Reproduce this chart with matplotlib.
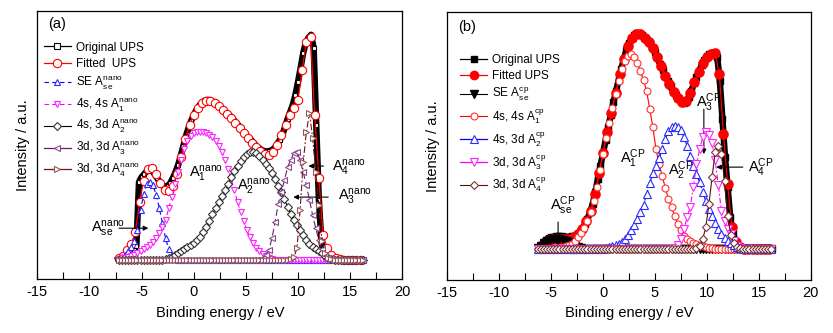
import numpy as np
import matplotlib
matplotlib.use("Agg")
import matplotlib.pyplot as plt
from matplotlib.lines import Line2D
from matplotlib.ticker import MultipleLocator

plt.rcParams['font.family'] = ['Liberation Sans', 'DejaVu Sans']
plt.rcParams['mathtext.fontset'] = 'custom'
plt.rcParams['mathtext.rm'] = 'Liberation Sans'
plt.rcParams['mathtext.it'] = 'Liberation Sans:italic'
plt.rcParams['axes.unicode_minus'] = False

# ---------------- panel (a): nano sample ----------------
a_orig_x = np.arange(-7.25, 16.25 + 1e-9, 0.25)
a_orig_y = [1, 2, 3, 4, 6, 8, 10, 14, 78, 83, 86, 89, 90, 89, 86, 82, 78, 75, 73, 74,
            77, 82, 88, 95, 104, 114, 124, 132, 139, 145,
            150, 154, 157, 159, 160, 160, 159, 157, 155, 153, 150, 148, 146, 144, 141, 138, 135, 131, 128, 125,
            122, 120, 117, 114, 112, 110, 109, 108, 109, 110, 112, 116, 120, 125, 133, 141, 148, 155, 165, 178,
            192, 207, 217, 222, 225, 212, 135, 60, 18, 7, 3, 2, 1, 1, 1, 0, 0, 0, 0, 0, 0, 0, 0, 0, 0]

a_fit_x = np.arange(-7.2, 16.0 + 1e-9, 0.4)
a_fit_y = [2, 4, 10, 16, 28, 58, 79, 91, 92, 86, 77, 70, 69, 74, 86, 103, 121, 135, 145, 152,
           157, 159, 159, 157, 154, 150, 146, 142, 137, 132, 127, 122, 117, 113, 109, 106, 105, 108, 115, 125,
           135, 145, 152, 160, 190, 218, 223, 145, 82, 25, 12, 5, 2, 1, 0, 0, 0, 0, 0]

a_comp_x = np.arange(-7.2, 16.2 + 1e-9, 0.3)
a_se_start, a_se_y = -7.2, [2, 3, 5, 9, 13, 19, 30, 50, 66, 76, 78, 75, 65, 52, 37, 22, 11, 5, 2]
a_1_start, a_1_y = -7.2, [1, 2, 2, 3, 4, 5, 7, 9, 11, 13, 15, 18, 22, 27, 33, 40, 52, 63, 76, 88,
                          100, 111, 119, 124, 127, 128, 128, 128, 127, 125, 123, 119, 114, 108, 100, 91, 81, 70, 58, 48,
                          39, 30, 23, 17, 12, 9, 6, 4, 2, 1]
a_2_start, a_2_y = -2.7, [1, 2, 3, 5, 7, 9, 11, 13, 15, 17, 20, 23, 28, 33, 39, 46, 52, 58, 64, 70,
                          76, 83, 89, 94, 99, 103, 106, 108, 108, 107, 104, 100, 96, 92, 87, 81, 74, 68, 61, 53,
                          46, 40, 35, 30, 25, 20, 16, 13, 11, 9, 7, 4, 2, 1]
a_3_start, a_3_y = 6.6, [2, 5, 10, 22, 38, 56, 68, 80, 93, 100, 107, 108, 100, 88, 75, 60, 45, 32, 20, 11, 5, 2, 1]
a_4_start, a_4_y = 9.3, [1, 3, 12, 50, 98, 128, 147, 122, 88, 55, 19, 7, 2, 1]

# ---------------- panel (b): CP sample ----------------
b_orig_x = np.arange(-5.75, 16.25 + 1e-9, 0.25)
b_orig_y = [6, 9, 11, 12, 12, 13, 13, 13, 12, 12, 12, 13, 13, 14, 17, 20, 25, 30, 37, 45,
            57, 70, 83, 96, 109, 122, 134, 147, 158, 169, 180, 190, 199, 206, 211, 214, 216, 216, 214, 211,
            209, 206, 202, 197, 191, 185, 179, 173, 168, 163, 158, 154, 151, 148, 146, 147, 152, 158, 166, 172,
            178, 184, 189, 193, 195, 196, 196, 192, 168, 130, 92, 62, 32, 16, 8, 3, 1, 1, 0, 0,
            0, 0, 0, 0, 0, 0, 0, 0, 0]

b_fit_x = np.arange(-6.0, 16.0 + 1e-9, 0.4)
b_fit_y = [3, 7, 9, 10, 10, 10, 10, 10, 12, 15, 20, 28, 38, 55, 76, 96, 117, 136, 156, 175,
           190, 203, 211, 215, 215, 211, 207, 201, 192, 183, 173, 165, 157, 151, 147, 148, 156, 167, 177, 186,
           192, 195, 196, 175, 115, 65, 22, 7, 2, 0, 0, 0, 0, 0, 0, 0]

b_comp_x = np.arange(-6.3, 16.2 + 1e-9, 0.3)
b_se_start, b_se_y = -6.3, [1, 3, 6, 8, 9, 10, 10, 10, 9, 8, 7, 5, 4, 2, 1]
b_1_start, b_1_y = -4.2, [1, 2, 3, 4, 5, 8, 12, 16, 21, 28, 37, 48, 62, 79, 95, 111, 126, 141, 155, 168,
                          180, 188, 193, 195, 192, 186, 178, 169, 158, 140, 122, 100, 85, 73, 61, 50, 42, 33, 25, 19,
                          13, 10, 8, 6, 5, 4, 3, 2, 1, 1]
b_2_start, b_2_y = 0.3, [1, 2, 3, 4, 5, 7, 10, 14, 19, 24, 30, 37, 44, 55, 66, 76, 83, 91, 100, 110,
                         118, 122, 123, 122, 119, 112, 103, 93, 83, 75, 67, 57, 48, 40, 33, 26, 20, 15, 11, 8,
                         6, 4, 2, 1]
b_3_start, b_3_y = 6.9, [1, 4, 10, 20, 32, 42, 62, 85, 100, 112, 117, 114, 106, 89, 64, 38, 28, 20, 15, 8, 3, 1]
b_4_start, b_4_y = 9.0, [1, 3, 10, 22, 45, 72, 97, 103, 95, 68, 33, 14, 6, 2, 1]


def on_grid(grid, start, vals):
    """Place a component's nonzero values on its grid; the rest sits on the baseline."""
    y = np.zeros(len(grid))
    i0 = int(round((start - grid[0]) / (grid[1] - grid[0])))
    y[i0:i0 + len(vals)] = vals
    return y


fig = plt.figure(figsize=(8.33, 3.33), dpi=100)
W, H = 833.0, 333.0
ax_a = fig.add_axes([37.3 / W, 1 - 279.3 / H, (402.3 - 37.3) / W, (279.3 - 10.7) / H])
ax_b = fig.add_axes([447.3 / W, 1 - 280.0 / H, (810.7 - 447.3) / W, (280.0 - 12.3) / H])

FS_TICK = 10.5
FS_LEG = 8.5
FS_ANN = 10.5


def style_axes(ax, ylim):
    ax.set_xlim(-15, 20)
    ax.set_ylim(*ylim)
    ax.xaxis.set_major_locator(MultipleLocator(5))
    ax.xaxis.set_minor_locator(MultipleLocator(2.5))
    ax.tick_params(axis='x', which='both', direction='in', length=5, width=0.8,
                   top=False, labelsize=FS_TICK, pad=4)
    ax.tick_params(axis='y', which='both', left=False, labelleft=False)
    for s in ax.spines.values():
        s.set_linewidth(0.9)
    ax.set_xlabel("Binding energy / eV", fontsize=FS_TICK, labelpad=5)
    ax.set_ylabel("Intensity / a.u.", fontsize=FS_TICK, labelpad=5)


def arrow(ax, x0, y0, x1, y1, head=True):
    ax.annotate("", xy=(x1, y1), xytext=(x0, y0),
                arrowprops=dict(arrowstyle='-|>' if head else '-', color='black',
                                lw=0.8, mutation_scale=7, shrinkA=0, shrinkB=0))


# ---------------- draw panel (a) ----------------
ax = ax_a
ax.plot(a_orig_x, a_orig_y, color='black', lw=4.6, zorder=2)
ax.plot(a_orig_x, a_orig_y, ls='none', marker='s', ms=3.4,
        mfc='white', mec='black', mew=0.8, zorder=2.1)
l_fit, = ax.plot(a_fit_x, a_fit_y, color='red', lw=0.9, marker='o', ms=6,
                 mfc='white', mec='red', mew=0.8, zorder=3)
l_se, = ax.plot(a_comp_x, on_grid(a_comp_x, a_se_start, a_se_y), color='#0000ff', lw=0.8,
                ls=(0, (4, 3)), marker='^', ms=5, mfc='white', mec='#2a2aff', mew=0.8, zorder=4)
l_1, = ax.plot(a_comp_x, on_grid(a_comp_x, a_1_start, a_1_y), color='#ff00ff', lw=0.8,
               ls=(0, (4, 3)), marker='v', ms=5, mfc='white', mec='#ff22ff', mew=0.8, zorder=4)
l_2, = ax.plot(a_comp_x, on_grid(a_comp_x, a_2_start, a_2_y), color='black', lw=0.8,
               marker='D', ms=4, mfc='white', mec='#333333', mew=0.8, zorder=4)
l_3, = ax.plot(a_comp_x, on_grid(a_comp_x, a_3_start, a_3_y), color='#6a1f6a', lw=0.8,
               ls=(0, (6, 3)), marker='<', ms=5, mfc='white', mec='#8a4a8a', mew=0.8, zorder=4)
l_4, = ax.plot(a_comp_x, on_grid(a_comp_x, a_4_start, a_4_y), color='#6e1414', lw=0.8,
               ls=(0, (6, 2, 1.5, 2)), marker='>', ms=5, mfc='white', mec='#94585e', mew=0.8, zorder=4)
h_orig = Line2D([], [], color='black', lw=0.9, marker='s', ms=4, mfc='white', mec='black', mew=0.8)
h_3 = Line2D([], [], color='#6a1f6a', lw=0.9, marker='<', ms=5, mfc='white', mec='#8a4a8a', mew=0.8)
h_4 = Line2D([], [], color='#6e1414', lw=0.9, marker='>', ms=5, mfc='white', mec='#94585e', mew=0.8)
ax.legend([h_orig, l_fit, l_se, l_1, l_2, h_3, h_4],
          ["Original UPS", "Fitted  UPS",
           r"SE $\mathregular{A_{se}^{nano}}$",
           r"4s, 4s $\mathregular{A_1^{nano}}$",
           r"4s, 3d $\mathregular{A_2^{nano}}$",
           r"3d, 3d $\mathregular{A_3^{nano}}$",
           r"3d, 3d $\mathregular{A_4^{nano}}$"],
          loc='upper left', bbox_to_anchor=(0.018, 0.885), frameon=False, fontsize=FS_LEG,
          borderpad=0, borderaxespad=0, handlelength=2.3, handletextpad=0.4,
          labelspacing=0.38, numpoints=1)
style_axes(ax, (-19, 249))
ax.text(-13.1, 236, "(a)", fontsize=FS_ANN, ha='center', va='center')
ax.text(-0.5, 82, r"$\mathregular{A_1^{nano}}$", fontsize=FS_ANN, ha='left', va='baseline')
ax.text(4.12, 70, r"$\mathregular{A_2^{nano}}$", fontsize=FS_ANN, ha='left', va='baseline')
ax.text(13.23, 88, r"$\mathregular{A_4^{nano}}$", fontsize=FS_ANN, ha='left', va='baseline')
ax.text(13.87, 60, r"$\mathregular{A_3^{nano}}$", fontsize=FS_ANN, ha='left', va='baseline')
ax.text(-9.88, 28, r"$\mathregular{A_{se}^{nano}}$", fontsize=FS_ANN, ha='left', va='baseline')
arrow(ax, 12.45, 94, 11.0, 94)
arrow(ax, 12.9, 63, 9.55, 63)
arrow(ax, -7.16, 32, -4.35, 32)

# ---------------- draw panel (b) ----------------
ax = ax_b
l_borig, = ax.plot(b_orig_x, b_orig_y, color='black', lw=4.6, marker='s', ms=5,
                   mfc='black', mec='black', zorder=2)
l_bfit, = ax.plot(b_fit_x, b_fit_y, color='red', lw=0.9, marker='o', ms=6.6,
                  mfc='red', mec='red', zorder=3)
l_bse, = ax.plot(b_comp_x, on_grid(b_comp_x, b_se_start, b_se_y), color='black', lw=0.8,
                 marker='v', ms=5.5, mfc='black', mec='black', zorder=4)
l_b1, = ax.plot(b_comp_x, on_grid(b_comp_x, b_1_start, b_1_y), color='red', lw=0.8,
                marker='o', ms=5, mfc='white', mec='#ff3030', mew=0.8, zorder=4)
l_b2, = ax.plot(b_comp_x, on_grid(b_comp_x, b_2_start, b_2_y), color='#0000ff', lw=0.8,
                ls=(0, (4, 2)), marker='^', ms=5.5, mfc='white', mec='#2a2aff', mew=0.8, zorder=4)
l_b3, = ax.plot(b_comp_x, on_grid(b_comp_x, b_3_start, b_3_y), color='#ff00ff', lw=0.8,
                ls=(0, (5, 2, 1.5, 2)), marker='v', ms=5.5, mfc='white', mec='#ff22ff', mew=0.8, zorder=4)
l_b4, = ax.plot(b_comp_x, on_grid(b_comp_x, b_4_start, b_4_y), color='#5a1010', lw=0.8,
                marker='D', ms=4.2, mfc='white', mec='#7a3434', mew=0.8, zorder=4)
h_borig = Line2D([], [], color='black', lw=0.9, marker='s', ms=4.5, mfc='black', mec='black')
h_bfit = Line2D([], [], color='red', lw=0.9, marker='o', ms=6, mfc='red', mec='red')
h_b2 = Line2D([], [], color='#0000ff', lw=0.9, marker='^', ms=5.5, mfc='white', mec='#2a2aff', mew=0.8)
h_b3 = Line2D([], [], color='#ff00ff', lw=0.9, marker='v', ms=5.5, mfc='white', mec='#ff22ff', mew=0.8)
ax.legend([h_borig, h_bfit, l_bse, l_b1, h_b2, h_b3, l_b4],
          ["Original UPS", "Fitted UPS",
           r"SE $\mathregular{A_{se}^{cp}}$",
           r"4s, 4s $\mathregular{A_1^{cp}}$",
           r"4s, 3d $\mathregular{A_2^{cp}}$",
           r"3d, 3d $\mathregular{A_3^{cp}}$",
           r"3d, 3d $\mathregular{A_4^{cp}}$"],
          loc='upper left', bbox_to_anchor=(0.035, 0.845), frameon=False, fontsize=FS_LEG,
          borderpad=0, borderaxespad=0, handlelength=2.3, handletextpad=0.4,
          labelspacing=0.34, numpoints=1)
style_axes(ax, (-31, 237))
ax.text(-13.08, 222, "(b)", fontsize=FS_ANN, ha='center', va='center')
ax.text(1.61, 86, r"$\mathregular{A_1^{CP}}$", fontsize=FS_ANN, ha='left', va='baseline')
ax.text(6.25, 74, r"$\mathregular{A_2^{CP}}$", fontsize=FS_ANN, ha='left', va='baseline')
ax.text(8.98, 142, r"$\mathregular{A_3^{CP}}$", fontsize=FS_ANN, ha='left', va='baseline')
ax.text(13.94, 77, r"$\mathregular{A_4^{CP}}$", fontsize=FS_ANN, ha='left', va='baseline')
ax.text(-5.12, 39, r"$\mathregular{A_{se}^{CP}}$", fontsize=FS_ANN, ha='left', va='baseline')
arrow(ax, 9.71, 140, 9.71, 95)
arrow(ax, 13.46, 82, 10.9, 82)
arrow(ax, -4.33, 27, -4.33, 4, head=False)

fig.savefig("out.png", dpi=100)
